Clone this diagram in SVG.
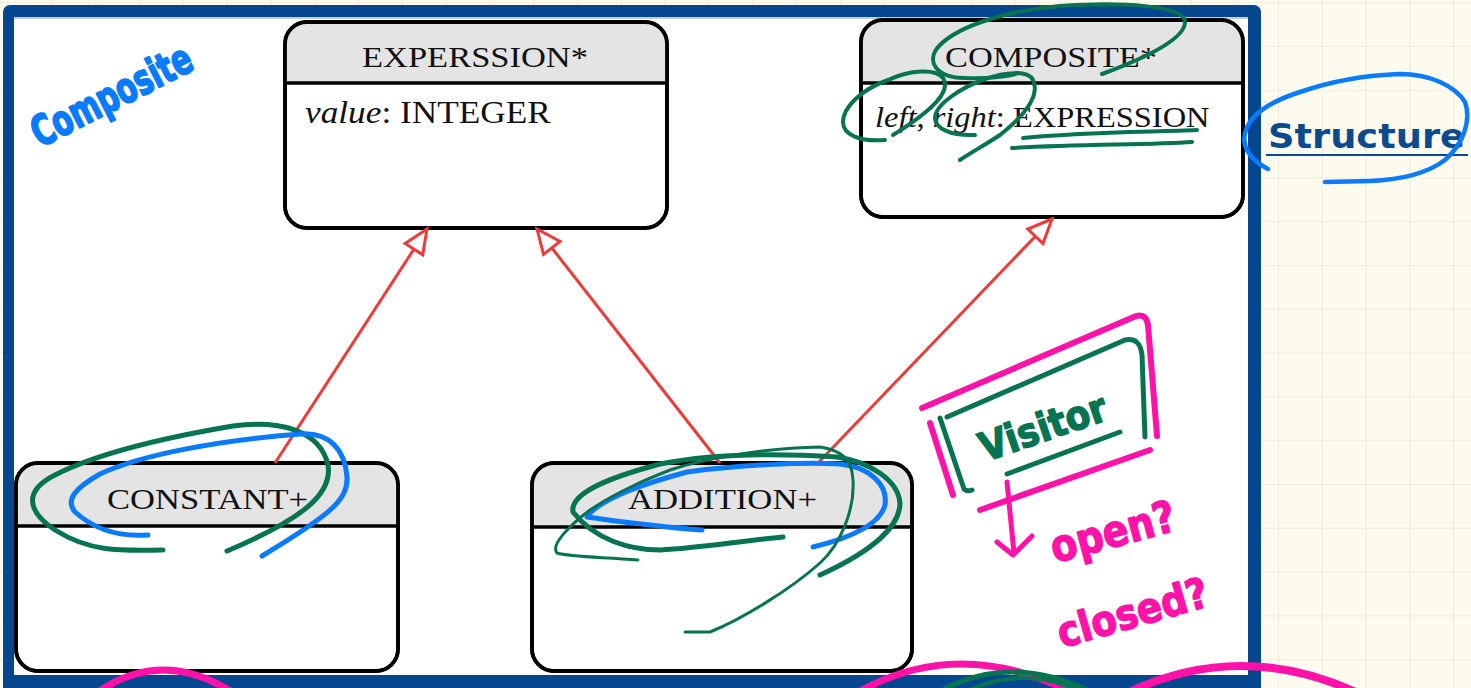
<svg xmlns="http://www.w3.org/2000/svg" width="1471" height="688" viewBox="0 0 1471 688">
  <defs>
    <pattern id="grid" patternUnits="userSpaceOnUse" x="7.7" y="2.2" width="43.8" height="43.8">
      <path d="M0,0 H43.8 M0,0 V43.8" fill="none" stroke="#e2dfcf" stroke-width="1.2"/>
    </pattern>
    <marker id="inherit" viewBox="0 0 32 26" refX="29" refY="13" markerWidth="32" markerHeight="26" markerUnits="userSpaceOnUse" orient="auto">
      <path d="M29,13 L5,2.5 L5,23.5 Z" fill="#ffffff" stroke="#ef3a3a" stroke-width="3" stroke-linejoin="miter"/>
    </marker>
  </defs>
  <style>
    .box { fill: #ffffff; stroke: #000000; stroke-width: 3.5; }
    .head { fill: #e4e4e4; stroke: none; }
    .div { stroke: #000000; stroke-width: 3.5; }
    .frame { fill: none; stroke: #000000; stroke-width: 3.8; }
    .title { font-family: "Liberation Serif", "Times New Roman", serif; font-size: 30px; fill: #111111; }
    .attr { font-family: "Liberation Serif", "Times New Roman", serif; fill: #111111; }
    .edge { stroke: #ef3a3a; stroke-width: 3; fill: none; marker-end: url(#inherit); }
    .ink { fill: none; stroke-linecap: round; stroke-linejoin: round; }
    .blue { stroke: #0a7bff; }
    .green { stroke: #067351; }
    .pink { stroke: #ff12a8; }
    .hand { font-family: "DejaVu Sans", "Noto Sans", sans-serif; font-weight: bold; stroke-linejoin: round; }
  </style>

  <!-- squared paper background -->
  <rect x="0" y="0" width="1471" height="688" fill="#fdfbee"/>
  <rect x="0" y="0" width="1471" height="688" fill="url(#grid)"/>

  <!-- slide frame -->
  <rect x="3" y="5" width="1258" height="700" rx="7" fill="#04478f"/>
  <rect x="14" y="17" width="1234" height="658" fill="#ffffff"/>
  <line x1="14" y1="18" x2="1248" y2="18" stroke="#c9ccd2" stroke-width="2"/>

  <!-- class nodes -->
  <g id="expression">
    <rect class="box" x="285" y="22" width="382" height="206" rx="22"/>
    <path class="head" d="M285,83 V44 A22,22 0 0 1 307,22 H645 A22,22 0 0 1 667,44 V83 Z"/>
    <line class="div" x1="285" y1="83" x2="667" y2="83"/>
    <rect class="frame" x="285" y="22" width="382" height="206" rx="22"/>
    <text class="title" x="362" y="67" textLength="226" lengthAdjust="spacingAndGlyphs">EXPERSSION*</text>
    <text class="attr" transform="translate(305,123) scale(1.12,1)" font-size="31.5"><tspan font-style="italic">value</tspan>: INTEGER</text>
  </g>

  <g id="composite">
    <rect class="box" x="861" y="20" width="382" height="197" rx="22"/>
    <path class="head" d="M861,83 V42 A22,22 0 0 1 883,20 H1221 A22,22 0 0 1 1243,42 V83 Z"/>
    <line class="div" x1="861" y1="83" x2="1243" y2="83"/>
    <rect class="frame" x="861" y="20" width="382" height="197" rx="22"/>
    <text class="title" x="945" y="67" textLength="212" lengthAdjust="spacingAndGlyphs">COMPOSITE*</text>
    <text class="attr" transform="translate(875,127) scale(1.12,1)" font-size="29"><tspan font-style="italic">left</tspan>, <tspan font-style="italic">right</tspan>: EXPRESSION</text>
  </g>

  <g id="constant">
    <rect class="box" x="16" y="463" width="382" height="208" rx="22"/>
    <path class="head" d="M16,526 V485 A22,22 0 0 1 38,463 H376 A22,22 0 0 1 398,485 V526 Z"/>
    <line class="div" x1="16" y1="526" x2="398" y2="526"/>
    <rect class="frame" x="16" y="463" width="382" height="208" rx="22"/>
    <text class="title" x="107" y="509" textLength="201" lengthAdjust="spacingAndGlyphs">CONSTANT+</text>
  </g>

  <g id="addition">
    <rect class="box" x="532" y="463" width="380" height="208" rx="22"/>
    <path class="head" d="M532,527 V485 A22,22 0 0 1 554,463 H890 A22,22 0 0 1 912,485 V527 Z"/>
    <line class="div" x1="532" y1="527" x2="912" y2="527"/>
    <rect class="frame" x="532" y="463" width="380" height="208" rx="22"/>
    <text class="title" x="628" y="509" textLength="189" lengthAdjust="spacingAndGlyphs">ADDITION+</text>
  </g>

  <!-- inheritance connectors -->
  <g id="connectors">
    <line class="edge" x1="275" y1="463" x2="427" y2="229"/>
    <line class="edge" x1="720" y1="463" x2="537" y2="229"/>
    <line class="edge" x1="818" y1="463" x2="1052" y2="219"/>
  </g>

  <!-- pen annotations -->
  <g id="notes">
    <text class="hand" transform="translate(40,148) rotate(-27)" font-size="42" fill="#0a7bff" stroke="#0a7bff" stroke-width="2" textLength="175" lengthAdjust="spacingAndGlyphs">Composite</text>

    <text class="hand" x="1268" y="148" font-size="33" fill="#0b4a8f" textLength="197" lengthAdjust="spacingAndGlyphs">Structure</text>
    <line x1="1266" y1="155" x2="1468" y2="155" stroke="#0b4a8f" stroke-width="2"/>
    <path class="ink blue" stroke-width="4.5" d="M1268,169 C1250,160 1240,145 1246,130 C1252,112 1275,100 1300,92 C1335,80 1370,75 1400,74 C1430,74 1455,86 1465,102 C1472,122 1462,145 1445,160 C1425,175 1395,180 1370,181 L1325,182"/>

    <!-- marks on COMPOSITE -->
    <path class="ink green" stroke-width="4" d="M1102,74 C1140,60 1185,40 1185,22 C1185,5 1120,2 1060,6 C1010,10 960,25 940,45 C925,60 935,78 965,78 C990,79 1010,76 1018,73"/>
    <path class="ink green" stroke-width="4" d="M885,140 C860,142 843,135 843,122 C843,108 860,90 888,80 C910,70 935,68 943,78 C952,92 930,112 893,135"/>
    <path class="ink green" stroke-width="4" d="M975,135 C950,136 935,128 935,118 C935,105 960,88 985,79 C1005,72 1028,70 1033,80 C1040,95 1025,115 1000,135 C985,145 970,153 960,160"/>
    <path class="ink green" stroke-width="4" d="M1023,138 C1080,132 1150,132 1197,130"/>
    <path class="ink green" stroke-width="4" d="M1012,148 C1080,144 1150,145 1192,142"/>

    <!-- marks on CONSTANT+ -->
    <path class="ink green" stroke-width="5" d="M163,550 C120,551 90,552 55,530 C25,510 25,490 55,475 C90,457 150,440 233,426 C280,420 320,430 328,465 C333,495 300,520 227,551"/>
    <path class="ink blue" stroke-width="5" d="M148,535 C120,537 95,530 75,512 C65,500 75,488 100,474 C140,455 220,440 300,434 C330,432 345,450 347,477 C348,500 330,515 262,556"/>

    <!-- marks on ADDITION+ -->
    <path class="ink blue" stroke-width="5" d="M702,530 C650,526 610,520 587,517 C595,505 620,490 687,472 C740,465 800,462 840,464 C870,467 888,485 885,505 C880,525 850,538 813,547"/>
    <path class="ink green" stroke-width="5" d="M783,537 C740,541 700,548 660,550 C630,550 595,540 573,512 C570,495 600,480 660,464 C700,456 760,452 837,457 C870,462 898,480 900,503 C900,525 875,550 820,575"/>
    <path class="ink green" stroke-width="3" d="M638,560 C600,557 570,557 557,553 C550,545 570,525 590,510 C620,490 650,478 670,470 C700,460 760,448 820,447 C840,450 852,458 853,480 C855,510 840,545 820,563 C790,590 740,620 710,632 L685,632"/>

    <!-- boxed note -->
    <path class="ink pink" stroke-width="6" d="M922,408 L1136,316 Q1146,313 1148,325 L1157,436"/>
    <path class="ink pink" stroke-width="6" d="M930,423 L953,495"/>
    <path class="ink pink" stroke-width="6" d="M980,510 L1150,450"/>
    <path class="ink green" stroke-width="5" d="M947,417 L1125,340 Q1140,337 1142,355 L1145,437"/>
    <path class="ink green" stroke-width="5" d="M940,418 L964,489 Q967,492 972,490"/>
    <path class="ink green" stroke-width="5" d="M1007,474 L1120,432"/>
    <text class="hand" transform="translate(985,462) rotate(-19)" font-size="40" fill="#067351" stroke="#067351" stroke-width="1.5" textLength="132" lengthAdjust="spacingAndGlyphs">Visitor</text>

    <path class="ink pink" stroke-width="5" d="M1007,482 L1014,553"/>
    <path class="ink pink" stroke-width="5" d="M997,542 L1013,555 L1032,536"/>
    <text class="hand" transform="translate(1055,563) rotate(-15)" font-size="44" fill="#ff12a8" stroke="#ff12a8" stroke-width="1.5" textLength="128" lengthAdjust="spacingAndGlyphs">open?</text>
    <text class="hand" transform="translate(1062,648) rotate(-16)" font-size="42" fill="#ff12a8" stroke="#ff12a8" stroke-width="1.5" textLength="155" lengthAdjust="spacingAndGlyphs">closed?</text>

    <!-- strokes running off the bottom edge -->
    <path class="ink pink" stroke-width="7" d="M98,692 Q162,648 232,692"/>
    <path class="ink pink" stroke-width="7" d="M855,694 Q958,634 1075,694"/>
    <path class="ink green" stroke-width="5" d="M935,694 Q1010,650 1095,694"/>
    <path class="ink green" stroke-width="4" d="M960,694 Q1025,662 1085,694"/>
    <path class="ink pink" stroke-width="8" d="M1125,694 Q1240,638 1360,694"/>
  </g>
</svg>
